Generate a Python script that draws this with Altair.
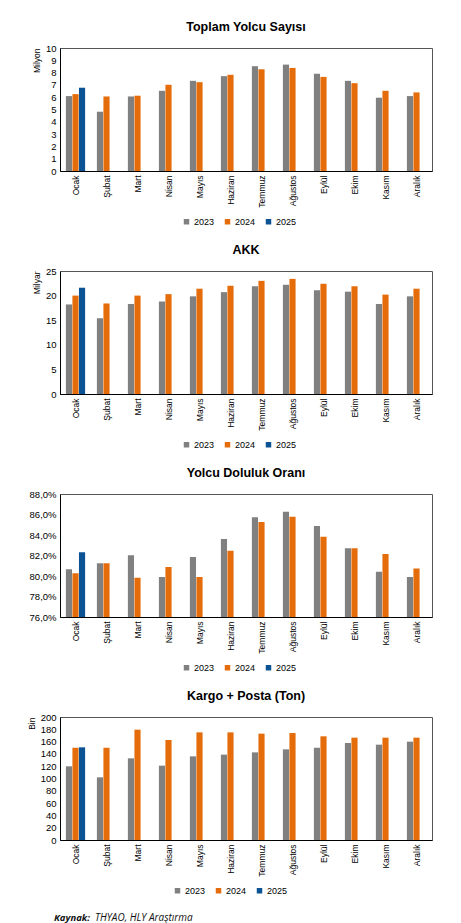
import pandas as pd
import altair as alt

months = ["Ocak", "Şubat", "Mart", "Nisan", "Mayıs", "Haziran",
          "Temmuz", "Ağustos", "Eylül", "Ekim", "Kasım", "Aralık"]
years = ["2023", "2024", "2025"]
colors = ["#808080", "#E46C0A", "#0B5394"]

# Toplam yolcu (milyon)
yolcu_2023 = [6.09, 4.82, 6.06, 6.52, 7.33, 7.71, 8.52, 8.65, 7.90, 7.33, 5.96, 6.09]
yolcu_2024 = [6.25, 6.06, 6.12, 7.01, 7.22, 7.82, 8.27, 8.38, 7.65, 7.14, 6.52, 6.39]
yolcu_2025 = [6.77]

# AKK (milyar)
akk_2023 = [18.2, 15.4, 18.3, 18.8, 19.85, 20.7, 21.9, 22.2, 21.1, 20.8, 18.3, 19.85]
akk_2024 = [20.0, 18.4, 20.0, 20.3, 21.4, 22.0, 23.0, 23.4, 22.4, 21.9, 20.2, 21.4]
akk_2025 = [21.6]

# Yolcu doluluk orani (%)
doluluk_2023 = [80.65, 81.24, 82.02, 79.90, 81.85, 83.60, 85.72, 86.28, 84.88, 82.70, 80.42, 79.90]
doluluk_2024 = [80.26, 81.24, 79.84, 80.88, 79.90, 82.47, 85.27, 85.79, 83.84, 82.70, 82.15, 80.72]
doluluk_2025 = [82.31]

# Kargo + posta (bin ton)
kargo_2023 = [119.8, 101.9, 132.8, 120.9, 136.0, 138.8, 142.5, 147.4, 150.1, 157.7, 155.0, 159.9]
kargo_2024 = [150.0, 150.0, 179.4, 162.6, 175.0, 175.0, 172.9, 174.0, 168.6, 166.4, 166.4, 166.4]
kargo_2025 = [150.7]

kaynak_etiket = "Kaynak:"
kaynak_metin = "THYAO, HLY Araştırma"

FONT = "Liberation Sans"
W, H = 372, 123


def to_long(v23, v24, v25):
    rows = []
    for series, year in ((v23, "2023"), (v24, "2024"), (v25, "2025")):
        for month, val in zip(months, series):
            rows.append({"ay": month, "yil": year, "deger": val})
    return pd.DataFrame(rows)


def bar_panel(df, title, unit, domain, ticks, label_expr="", legend_x=122):
    y_axis = dict(values=ticks, grid=False, ticks=False, labelPadding=4,
                  labelFont=FONT, labelFontSize=9.5, labelColor="#000",
                  domainColor="#000", titleFont=FONT, titleFontSize=8.5,
                  titleFontWeight="normal", titleColor="#000",
                  titleAnchor="end", titlePadding=4)
    if label_expr:
        y_axis["labelExpr"] = label_expr
    return alt.Chart(df).mark_bar(clip=True).encode(
        x=alt.X("ay:N", sort=months, title=None,
                scale=alt.Scale(paddingInner=0.38, paddingOuter=0.19),
                axis=alt.Axis(labelAngle=270, ticks=False, labelPadding=4,
                              labelFont=FONT, labelFontSize=8.5, labelColor="#000",
                              domainColor="#000")),
        xOffset=alt.XOffset("yil:N", sort=years,
                            scale=alt.Scale(domain=years, paddingInner=0.06)),
        y=alt.Y("deger:Q", title=unit if unit else None,
                scale=alt.Scale(domain=domain, nice=False, zero=False),
                axis=alt.Axis(**y_axis)),
        color=alt.Color("yil:N", scale=alt.Scale(domain=years, range=colors),
                        legend=alt.Legend(title=None, orient="none", direction="horizontal",
                                          legendX=legend_x, legendY=169,
                                          symbolType="square", symbolSize=30,
                                          symbolStrokeWidth=0, labelFont=FONT,
                                          labelFontSize=9, labelColor="#000",
                                          labelOffset=3, columnPadding=8)),
    ).properties(
        width=W, height=H,
        title=alt.TitleParams(title, font=FONT, fontSize=12.5, fontWeight="bold",
                              color="#000", anchor="middle", offset=10),
        view=alt.ViewBackground(stroke="#555", strokeWidth=1),
    )


yolcu = bar_panel(to_long(yolcu_2023, yolcu_2024, yolcu_2025), "Toplam Yolcu Sayısı",
                  "Milyon", [0, 10], list(range(0, 11)))
akk = bar_panel(to_long(akk_2023, akk_2024, akk_2025), "AKK",
                "Milyar", [0, 25], list(range(0, 26, 5)))
doluluk = bar_panel(to_long(doluluk_2023, doluluk_2024, doluluk_2025), "Yolcu Doluluk Oranı",
                    "", [76, 88], list(range(76, 89, 2)),
                    label_expr="replace(format(datum.value, '.1f'), '.', ',') + '%'")
kargo = bar_panel(to_long(kargo_2023, kargo_2024, kargo_2025), "Kargo + Posta (Ton)",
                  "Bin", [0, 200], list(range(0, 201, 20)), legend_x=113)

src = pd.DataFrame({"etiket": [kaynak_etiket], "metin": [kaynak_metin]})
footer_base = alt.Chart(src)
footer = alt.layer(
    footer_base.mark_text(align="left", baseline="middle", font="Open Sans",
                          fontSize=9.5, fontStyle="italic", fontWeight="bold",
                          color="#111").encode(text="etiket:N", x=alt.value(-6), y=alt.value(2)),
    footer_base.mark_text(align="left", baseline="middle", font="Open Sans",
                          fontSize=10, fontStyle="italic",
                          color="#111").encode(text="metin:N", x=alt.value(35), y=alt.value(2)),
).properties(width=W, height=10, view=alt.ViewBackground(stroke="transparent"))

chart = alt.vconcat(yolcu, akk, doluluk, kargo, footer, spacing=15).resolve_scale(
    color="independent"
).properties(
    padding={"left": 18, "top": 12, "right": 5, "bottom": 5},
    background="white",
)

chart.save("out.html", embed_options={"renderer": "svg", "actions": False})
